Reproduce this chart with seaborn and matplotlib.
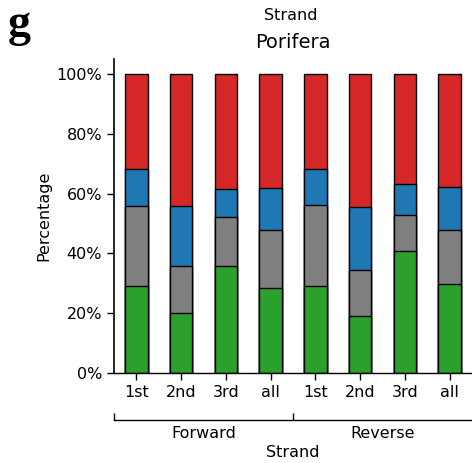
import numpy as np
import pandas as pd
import matplotlib
matplotlib.use("Agg")
import matplotlib.pyplot as plt
import seaborn as sns
from matplotlib.ticker import FuncFormatter

# ---- data (percentages) ----
strands = ["Forward", "Forward", "Forward", "Forward", "Reverse", "Reverse", "Reverse", "Reverse"]
positions = ["1st", "2nd", "3rd", "all", "1st", "2nd", "3rd", "all"]
green = [29.1, 20.1, 35.9, 28.4, 29.0, 19.2, 40.7, 29.7]
gray = [26.9, 15.8, 16.4, 19.5, 27.2, 15.3, 12.0, 18.1]
blue = [12.1, 20.1, 9.3, 14.1, 11.9, 21.1, 10.6, 14.5]
red = [31.9, 44.0, 38.4, 38.0, 31.9, 44.4, 36.7, 37.7]

segment_names = ["green", "gray", "blue", "red"]
segment_colors = {"green": "#2ca02c", "gray": "#7f7f7f", "blue": "#1f77b4", "red": "#d62728"}

keys = [f"{s}-{p}" for s, p in zip(strands, positions)]
df = pd.DataFrame({"key": keys, "strand": strands, "pos": positions,
                   "green": green, "gray": gray, "blue": blue, "red": red})
cum = df[segment_names].cumsum(axis=1)

sns.set_style("ticks")
plt.rcParams.update({
    "font.family": ["DejaVu Sans"],
    "axes.edgecolor": "black",
    "text.color": "black",
    "axes.labelcolor": "black",
    "xtick.color": "black",
    "ytick.color": "black",
})

fig = plt.figure(figsize=(4.72, 4.63), dpi=100)
ax = fig.add_axes([0.2415, 0.1944, 0.7585, 0.678])

# stacked bars: draw cumulative tops from highest to lowest
for seg in reversed(segment_names):
    sns.barplot(x=df["key"], y=cum[seg], order=keys, color=segment_colors[seg],
                edgecolor="black", linewidth=1.0, width=0.5, saturation=1, ax=ax)

ax.set_xlim(-0.5, len(keys) - 0.5)
ax.set_ylim(0, 105)
ax.set_yticks([0, 20, 40, 60, 80, 100])
ax.yaxis.set_major_formatter(FuncFormatter(lambda v, _: f"{v:.0f}%"))
ax.set_xticks(range(len(keys)))
ax.set_xticklabels(positions)
ax.set_xlabel("")
ax.set_ylabel("Percentage", fontsize=11.5)
ax.tick_params(axis="both", labelsize=11.5, length=5, width=1)
ax.set_title("Porifera", fontsize=14, pad=8)
sns.despine(ax=ax)
ax.spines["left"].set_linewidth(1.2)
ax.spines["bottom"].set_linewidth(1.0)

# secondary strand-level axis
sec = ax.secondary_xaxis(-0.15)
sec.set_xticks([-0.5, 3.5], labels=["", ""])
sec.set_xticks([1.5, 5.5], labels=["Forward", "Reverse"], minor=True)
sec.tick_params(axis="x", which="major", direction="in", length=5, width=1)
sec.tick_params(axis="x", which="minor", length=0, labelsize=11.5, pad=4)
sec.set_xlabel("Strand", fontsize=11.5, labelpad=3)
sec.spines["bottom"].set_linewidth(1.0)

fig.text(291 / 472, 1 - 20 / 463, "Strand", ha="center", va="baseline", fontsize=11.5)
fig.text(8 / 472, 1 - 36 / 463, "g", ha="left", va="baseline", fontsize=33,
         fontweight="bold", family="Liberation Serif")

fig.savefig("out.png", dpi=100)
